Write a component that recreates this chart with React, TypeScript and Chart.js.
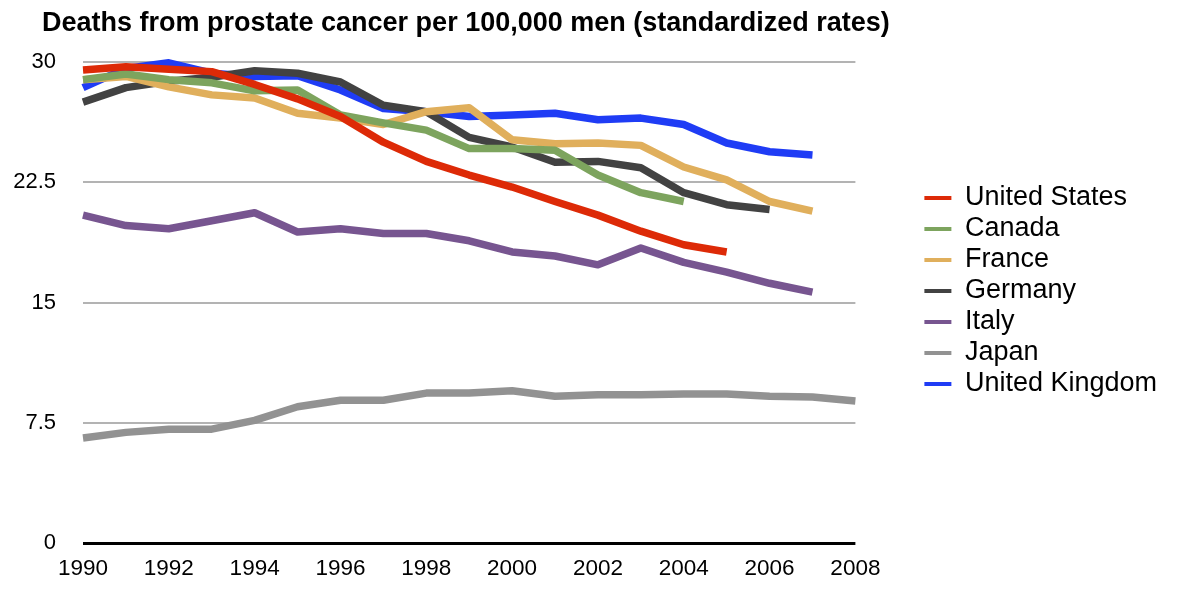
import { useEffect, useRef } from 'react'
import { Chart, ChartConfiguration, Plugin, registerables } from 'chart.js'

Chart.register(...registerables)

const years = [
  '1990', '1991', '1992', '1993', '1994', '1995', '1996', '1997', '1998', '1999',
  '2000', '2001', '2002', '2003', '2004', '2005', '2006', '2007', '2008',
]

const unitedStates = [29.5, 29.7, 29.55, 29.4, 28.6, 27.7, 26.6, 25.0, 23.8, 22.95, 22.2, 21.3, 20.45, 19.45, 18.6, 18.15]
const canada = [28.9, 29.25, 28.9, 28.7, 28.2, 28.25, 26.7, 26.2, 25.75, 24.6, 24.6, 24.5, 22.95, 21.85, 21.3]
const france = [28.9, 29.1, 28.45, 27.95, 27.75, 26.8, 26.5, 26.1, 26.9, 27.15, 25.15, 24.9, 24.95, 24.8, 23.45, 22.65, 21.3, 20.7]
const germany = [27.5, 28.4, 28.8, 29.05, 29.45, 29.3, 28.75, 27.3, 26.9, 25.3, 24.7, 23.75, 23.8, 23.4, 21.85, 21.1, 20.8]
const italy = [20.45, 19.8, 19.6, 20.1, 20.6, 19.4, 19.6, 19.3, 19.3, 18.85, 18.15, 17.9, 17.35, 18.4, 17.5, 16.9, 16.2, 15.65]
const japan = [6.55, 6.9, 7.1, 7.1, 7.65, 8.5, 8.9, 8.9, 9.35, 9.35, 9.5, 9.15, 9.25, 9.25, 9.3, 9.3, 9.15, 9.1, 8.85]
const unitedKingdom = [28.4, 29.6, 29.95, 29.3, 29.1, 29.15, 28.25, 27.1, 26.9, 26.6, 26.7, 26.8, 26.4, 26.5, 26.1, 24.95, 24.4, 24.2]

const seriesNames = ['United States', 'Canada', 'France', 'Germany', 'Italy', 'Japan', 'United Kingdom']
const seriesValues = [unitedStates, canada, france, germany, italy, japan, unitedKingdom]
const seriesColors = ['#dd2a07', '#7da45e', '#e0af5c', '#424242', '#775590', '#929292', '#1f3cf5']

const yTicks = [0, 7.5, 15, 22.5, 30]

const FONT = "'Liberation Sans', Arial, Helvetica, sans-serif"

// gap between plot area and legend, and indent of the title
const LEGEND_SHIFT = 65
const TITLE_SHIFT = 30

const boxShift: Plugin<'line'> = {
  id: 'boxShift',
  afterLayout(chart) {
    const legend = (chart as any).legend
    if (legend) {
      legend.left += LEGEND_SHIFT
      legend.right += LEGEND_SHIFT
    }
    const title = (chart as any).titleBlock
    if (title) {
      title.left += TITLE_SHIFT
      title.right += TITLE_SHIFT
    }
  },
}

export default function App() {
  const canvasRef = useRef<HTMLCanvasElement>(null)
  const chartRef = useRef<Chart>()

  useEffect(() => {
    document.body.style.margin = '0'
    if (!canvasRef.current) return
    const ctx = canvasRef.current.getContext('2d')
    if (!ctx) return

    Chart.defaults.font.family = FONT
    Chart.defaults.color = '#000'

    const config: ChartConfiguration<'line'> = {
      type: 'line',
      data: {
        labels: years,
        datasets: seriesNames.map((name, i) => ({
          label: name,
          data: seriesValues[i],
          borderColor: seriesColors[i],
          backgroundColor: seriesColors[i],
          borderWidth: 7.5,
          borderJoinStyle: 'round',
          borderCapStyle: 'butt',
          pointRadius: 0,
          tension: 0,
          clip: false,
        })),
      },
      options: {
        responsive: false,
        animation: false,
        devicePixelRatio: 1,
        layout: {
          padding: { top: 0, left: 12, right: 87, bottom: 11 },
        },
        scales: {
          x: {
            grid: { display: false },
            border: { display: false },
            ticks: {
              autoSkip: false,
              maxRotation: 0,
              padding: 4,
              font: { size: 22.5 },
              color: '#000',
              callback: (_v, idx) => (idx % 2 === 0 ? years[idx] : ''),
            },
            afterFit: (scale) => {
              scale.height = 39
            },
          },
          y: {
            min: 0,
            max: 30,
            afterBuildTicks: (scale) => {
              scale.ticks = yTicks.map((v) => ({ value: v }))
            },
            grid: {
              drawTicks: false,
              color: (c) => (c.tick && c.tick.value === 0 ? '#000' : '#b3b3b3'),
              lineWidth: (c) => (c.tick && c.tick.value === 0 ? 3 : 2),
            },
            border: { display: false },
            ticks: {
              padding: 27,
              font: { size: 22 },
              color: '#000',
            },
            afterFit: (scale) => {
              scale.width = 71
            },
          },
        },
        plugins: {
          title: {
            display: true,
            text: 'Deaths from prostate cancer per 100,000 men (standardized rates)',
            align: 'start',
            color: '#000',
            font: { size: 27, weight: 'bold' },
            padding: { top: 7, bottom: 22.6 },
          },
          legend: {
            position: 'right',
            labels: {
              boxWidth: 27,
              boxHeight: 4,
              padding: 4,
              color: '#000',
              font: { size: 27, lineHeight: 1 },
              generateLabels: (chart) =>
                Chart.defaults.plugins.legend.labels.generateLabels(chart).map((l) => ({
                  ...l,
                  lineWidth: 0,
                  fillStyle: l.strokeStyle,
                })),
            },
          },
          tooltip: { enabled: false },
        },
      },
      plugins: [boxShift],
    }

    if (chartRef.current) chartRef.current.destroy()
    chartRef.current = new Chart(ctx, config)

    return () => {
      if (chartRef.current) {
        chartRef.current.destroy()
        chartRef.current = undefined
      }
    }
  }, [])

  return (
    <div style={{ width: 1189, height: 593 }}>
      <canvas ref={canvasRef} width={1189} height={593} />
    </div>
  )
}
